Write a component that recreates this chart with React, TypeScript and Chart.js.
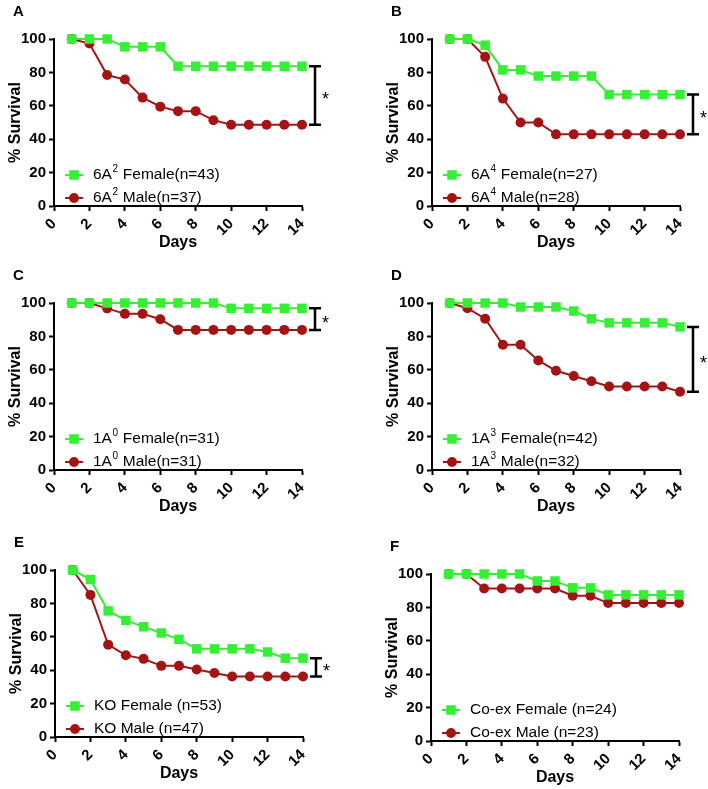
import React, { useEffect, useRef } from "react";
import { Chart, registerables } from "chart.js";

Chart.register(...registerables);

// ---------- data ----------
const days = [1, 2, 3, 4, 5, 6, 7, 8, 9, 10, 11, 12, 13, 14];
const xTickValues = [0, 2, 4, 6, 8, 10, 12, 14];
const yTickValues = [0, 20, 40, 60, 80, 100];

const panelLetters = ["A", "B", "C", "D", "E", "F"];

const femaleLabels = [
  "6A² Female(n=43)",
  "6A⁴ Female(n=27)",
  "1A⁰ Female(n=31)",
  "1A³ Female(n=42)",
  "KO Female (n=53)",
  "Co-ex Female (n=24)",
];
const maleLabels = [
  "6A² Male(n=37)",
  "6A⁴ Male(n=28)",
  "1A⁰ Male(n=31)",
  "1A³ Male(n=32)",
  "KO Male (n=47)",
  "Co-ex Male (n=23)",
];

const femaleA = [100, 100, 100, 95.3, 95.3, 95.3, 83.7, 83.7, 83.7, 83.7, 83.7, 83.7, 83.7, 83.7];
const maleA = [100, 97.3, 78.4, 75.7, 64.9, 59.5, 56.8, 56.8, 51.4, 48.6, 48.6, 48.6, 48.6, 48.6];

const femaleB = [100, 100, 96.3, 81.5, 81.5, 77.8, 77.8, 77.8, 77.8, 66.7, 66.7, 66.7, 66.7, 66.7];
const maleB = [100, 100, 89.3, 64.3, 50.0, 50.0, 42.9, 42.9, 42.9, 42.9, 42.9, 42.9, 42.9, 42.9];

const femaleC = [100, 100, 100, 100, 100, 100, 100, 100, 100, 96.8, 96.8, 96.8, 96.8, 96.8];
const maleC = [100, 100, 96.8, 93.5, 93.5, 90.3, 83.9, 83.9, 83.9, 83.9, 83.9, 83.9, 83.9, 83.9];

const femaleD = [100, 100, 100, 100, 97.6, 97.6, 97.6, 95.2, 90.5, 88.1, 88.1, 88.1, 88.1, 85.7];
const maleD = [100, 96.9, 90.6, 75.0, 75.0, 65.6, 59.4, 56.3, 53.1, 50.0, 50.0, 50.0, 50.0, 46.9];

const femaleE = [100, 94.3, 75.5, 69.8, 66.0, 62.3, 58.5, 52.8, 52.8, 52.8, 52.8, 50.9, 47.2, 47.2];
const maleE = [100, 85.1, 55.3, 48.9, 46.8, 42.6, 42.6, 40.4, 38.3, 36.2, 36.2, 36.2, 36.2, 36.2];

const femaleF = [100, 100, 100, 100, 100, 95.8, 95.8, 91.7, 91.7, 87.5, 87.5, 87.5, 87.5, 87.5];
const maleF = [100, 100, 91.3, 91.3, 91.3, 91.3, 91.3, 87.0, 87.0, 82.6, 82.6, 82.6, 82.6, 82.6];

const femaleSeries = [femaleA, femaleB, femaleC, femaleD, femaleE, femaleF];
const maleSeries = [maleA, maleB, maleC, maleD, maleE, maleF];

// significance brackets (survival % at the two ends), null = none
const bracketTop = [83.7, 66.7, 96.8, 85.7, 47.2, null];
const bracketBottom = [48.6, 42.9, 83.9, 46.9, 36.2, null];

// ---------- style / layout ----------
const GREEN = "#33f033";
const RED = "#a51414";
const FONT = '"Liberation Sans", Arial, sans-serif';

const PAD_TOP = 40;
const PAD_RIGHT = 30;
const Y_AXIS_W = 60;
const X_AXIS_H = 58;
const PLOT_W = 248;
const PLOT_H = 167;
const CW = Y_AXIS_W + PLOT_W + PAD_RIGHT;
const CH = PAD_TOP + PLOT_H + X_AXIS_H;

// canvas offsets on the page (left, top)
const panelOffsets: [number, number][] = [
  [-6, -1],
  [372, -1],
  [-6, 263],
  [372, 263],
  [-5, 530],
  [371, 534],
];

const SUP: Record<string, string> = {
  "⁰": "0", "¹": "1", "²": "2", "³": "3", "⁴": "4",
  "⁵": "5", "⁶": "6", "⁷": "7", "⁸": "8", "⁹": "9",
};

function drawRich(ctx: CanvasRenderingContext2D, text: string, x: number, y: number, size: number) {
  const runs: { t: string; sup: boolean }[] = [];
  for (const ch of Array.from(text)) {
    const sup = ch in SUP;
    const c = sup ? SUP[ch] : ch;
    const last = runs[runs.length - 1];
    if (last && last.sup === sup) last.t += c;
    else runs.push({ t: c, sup });
  }
  let cx = x;
  ctx.textAlign = "left";
  ctx.textBaseline = "middle";
  for (const r of runs) {
    if (r.sup) {
      ctx.font = `${Math.round(size * 0.62)}px ${FONT}`;
      ctx.fillText(r.t, cx + 0.5, y - size * 0.36);
      cx += ctx.measureText(r.t).width + 1;
    } else {
      ctx.font = `${size}px ${FONT}`;
      ctx.fillText(r.t, cx, y);
      cx += ctx.measureText(r.t).width;
    }
  }
}

function makePlugin(idx: number) {
  return {
    id: "panelDeco" + idx,
    afterDraw(chart: any) {
      const ctx: CanvasRenderingContext2D = chart.ctx;
      const { left, right, top, bottom } = chart.chartArea;
      const yScale = chart.scales.y;
      ctx.save();

      // panel letter
      ctx.fillStyle = "#000";
      ctx.font = `bold 15px ${FONT}`;
      ctx.textAlign = "left";
      ctx.textBaseline = "middle";
      ctx.fillText(panelLetters[idx], left - 41, top - 27);

      // legend
      const rows = [
        { label: femaleLabels[idx], color: GREEN, shape: "rect", y: bottom - 31 },
        { label: maleLabels[idx], color: RED, shape: "circle", y: bottom - 8 },
      ];
      for (const r of rows) {
        ctx.strokeStyle = r.color;
        ctx.lineWidth = 2;
        ctx.beginPath();
        ctx.moveTo(left + 11, r.y);
        ctx.lineTo(left + 29, r.y);
        ctx.stroke();
        ctx.fillStyle = r.color;
        if (r.shape === "rect") {
          ctx.fillRect(left + 20 - 4.75, r.y - 4.75, 9.5, 9.5);
        } else {
          ctx.beginPath();
          ctx.arc(left + 20, r.y, 5, 0, Math.PI * 2);
          ctx.fill();
        }
        ctx.fillStyle = "#000";
        drawRich(ctx, r.label, left + 39, r.y, 15.5);
      }

      // significance bracket
      const bt = bracketTop[idx];
      const bb = bracketBottom[idx];
      if (bt != null && bb != null) {
        const x = right + 13;
        const y1 = yScale.getPixelForValue(bt);
        const y2 = yScale.getPixelForValue(bb);
        ctx.strokeStyle = "#000";
        ctx.lineWidth = 2.5;
        ctx.beginPath();
        ctx.moveTo(x, y1);
        ctx.lineTo(x, y2);
        ctx.moveTo(x - 6, y1);
        ctx.lineTo(x + 6, y1);
        ctx.moveTo(x - 6, y2);
        ctx.lineTo(x + 6, y2);
        ctx.stroke();
        ctx.fillStyle = "#000";
        ctx.font = `18px ${FONT}`;
        ctx.textAlign = "left";
        ctx.textBaseline = "alphabetic";
        ctx.fillText("*", x + 7, (y1 + y2) / 2 + 18 * 0.55);
      }
      ctx.restore();
    },
  };
}

function makeConfig(idx: number): any {
  const tickFont = { family: FONT, size: 15, weight: "bold" as const };
  const titleFont = { family: FONT, size: 16, weight: "bold" as const };
  return {
    type: "line",
    data: {
      datasets: [
        {
          label: femaleLabels[idx],
          data: days.map((d, j) => ({ x: d, y: femaleSeries[idx][j] })),
          borderColor: GREEN,
          backgroundColor: GREEN,
          borderWidth: 2,
          pointStyle: "rect",
          pointRadius: 6.7,
          pointBorderWidth: 0,
          tension: 0,
          clip: false,
        },
        {
          label: maleLabels[idx],
          data: days.map((d, j) => ({ x: d, y: maleSeries[idx][j] })),
          borderColor: RED,
          backgroundColor: RED,
          borderWidth: 2,
          pointStyle: "circle",
          pointRadius: 5,
          pointBorderWidth: 0,
          tension: 0,
          clip: false,
        },
      ],
    },
    options: {
      responsive: false,
      animation: false,
      devicePixelRatio: 1,
      events: [],
      layout: { padding: { top: PAD_TOP, right: PAD_RIGHT, left: 0, bottom: 0 } },
      plugins: {
        legend: { display: false },
        tooltip: { enabled: false },
        title: { display: false },
      },
      scales: {
        x: {
          type: "linear",
          min: 0,
          max: 14,
          afterFit: (s: any) => {
            s.height = X_AXIS_H;
          },
          afterBuildTicks: (s: any) => {
            s.ticks = xTickValues.map((v) => ({ value: v }));
          },
          ticks: {
            font: tickFont,
            color: "#000",
            minRotation: 45,
            maxRotation: 45,
            autoSkip: false,
            padding: 4,
          },
          grid: {
            display: true,
            drawOnChartArea: false,
            drawTicks: true,
            tickLength: 5,
            tickWidth: 2,
            tickColor: "#000",
            color: "#000",
          },
          border: { display: true, color: "#000", width: 2 },
          title: {
            display: true,
            text: "Days",
            color: "#000",
            font: titleFont,
            padding: { top: 0, bottom: 12 },
          },
        },
        y: {
          type: "linear",
          min: 0,
          max: 100,
          afterFit: (s: any) => {
            s.width = Y_AXIS_W;
          },
          afterBuildTicks: (s: any) => {
            s.ticks = yTickValues.map((v) => ({ value: v }));
          },
          ticks: {
            font: tickFont,
            color: "#000",
            padding: 3,
          },
          grid: {
            display: true,
            drawOnChartArea: false,
            drawTicks: true,
            tickLength: 5,
            tickWidth: 2,
            tickColor: "#000",
            color: "#000",
          },
          border: { display: true, color: "#000", width: 2 },
          title: {
            display: true,
            text: "% Survival",
            color: "#000",
            font: titleFont,
            padding: { top: 12, bottom: 0 },
          },
        },
      },
    },
    plugins: [makePlugin(idx)],
  };
}

function Panel({ idx }: { idx: number }) {
  const ref = useRef<HTMLCanvasElement>(null);
  useEffect(() => {
    if (!ref.current) return;
    const chart = new Chart(ref.current, makeConfig(idx));
    return () => chart.destroy();
  }, [idx]);
  const [l, t] = panelOffsets[idx];
  return (
    <canvas
      ref={ref}
      width={CW}
      height={CH}
      style={{ position: "absolute", left: l, top: t, width: CW, height: CH }}
    />
  );
}

export default function App() {
  return (
    <div
      style={{
        position: "absolute",
        left: 0,
        top: 0,
        width: 708,
        height: 789,
        overflow: "hidden",
        background: "#fff",
      }}
    >
      {panelLetters.map((_, i) => (
        <Panel key={i} idx={i} />
      ))}
    </div>
  );
}
